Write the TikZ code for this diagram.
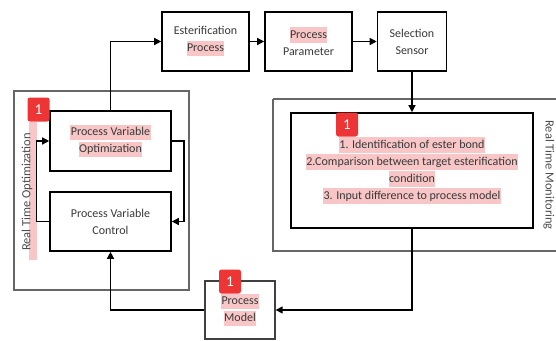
\documentclass[tikz,border=0pt]{standalone}
\usepackage{fontspec}
\setmainfont{Carlito}
\usetikzlibrary{arrows.meta}
\definecolor{hlpink}{HTML}{F8C6C6}
\definecolor{txt}{HTML}{383838}
\definecolor{badge}{HTML}{EE3535}
\newcommand\hlt[1]{{\setlength{\fboxsep}{0.5pt}\colorbox{hlpink}{\rule[-4pt]{0pt}{14.5pt}#1}}}
\begin{document}
\begin{tikzpicture}[x=1pt,y=-1pt,
  font=\fontsize{12}{17}\selectfont, text=txt,
  box/.style={draw=black, line width=1.6pt, inner sep=0pt, align=center},
  outerbox/.style={draw=black!60, line width=1.2pt},
  conn/.style={draw=black, line width=1.4pt},
  arr/.style={conn, -{Triangle[length=7pt,width=7pt]}},
  badgebox/.style={fill=badge, rounded corners=2.5pt, minimum width=22pt, minimum height=24pt, inner sep=0pt, text=white, font=\fontsize{15}{15}\selectfont}]
\useasboundingbox (0,0) rectangle (556,340);
% outer frames
\draw[outerbox] (14,91) rectangle (189,290);
\draw[outerbox] (273,99) -- (560,99);
\draw[outerbox] (273,99) -- (273,251) -- (560,251);
% pink strip and labels
\fill[hlpink] (29,122) rectangle (37,260);
\node[rotate=90, text=black!70, font=\fontsize{12.5}{15}\selectfont] (rtolbl) at (27,192) {Real Time Optimization};
\node[rotate=-90, text=black!70, font=\fontsize{12.5}{15}\selectfont] (rtmlbl) at (549,175) {Real Time Monitoring};
% boxes
\node[box, minimum width=121pt, minimum height=60pt] (pvo) at (110.5,141) {\hlt{Process Variable}\\\hlt{Optimization}};
\node[box, minimum width=121pt, minimum height=59pt] (pvc) at (110.5,221.5) {Process Variable\\Control};
\node[box, minimum width=87pt, minimum height=59pt] (est) at (205.5,41.5) {Esterification\\\hlt{Process}};
\node[box, minimum width=87pt, minimum height=59pt] (pp) at (308.5,41.5) {\hlt{Process}\\Parameter};
\node[box, minimum width=69pt, minimum height=59pt] (ss) at (412,41.5) {Selection\\Sensor};
\node[box, minimum width=242pt, minimum height=115pt] (mon) at (412,170.5) {\hlt{1. Identification of ester bond}\\\hlt{2.Comparison between target esterification}\\\hlt{condition}\\\hlt{3. Input difference to process model}};
\node[box, line width=1.3pt, draw=black!75, minimum width=70pt, minimum height=58pt] (pm) at (240,310) {\hlt{Process}\\\hlt{Model}};
% connectors
\draw[arr] (pvo.north) |- (est.west);
\draw[arr] (est.east) -- (pp.west);
\draw[arr] (pp.east) -- (ss.west);
\draw[arr] (ss.south) -- (mon.north);
\draw[arr] (mon.south) |- (pm.east);
\draw[arr] (pm.west) -| (pvc.south);
\draw[arr] (pvo.east) -- ++(12,0) |- (pvc.east);
\draw[arr] (pvc.west) -- ++(-13,0) |- (pvo.west);
% badges
\node[badgebox] (b1) at (38.5,109.5) {1};
\node[badgebox] (b2) at (347,124.5) {1};
\node[badgebox] (b3) at (230,281.5) {1};
\end{tikzpicture}
\end{document}
